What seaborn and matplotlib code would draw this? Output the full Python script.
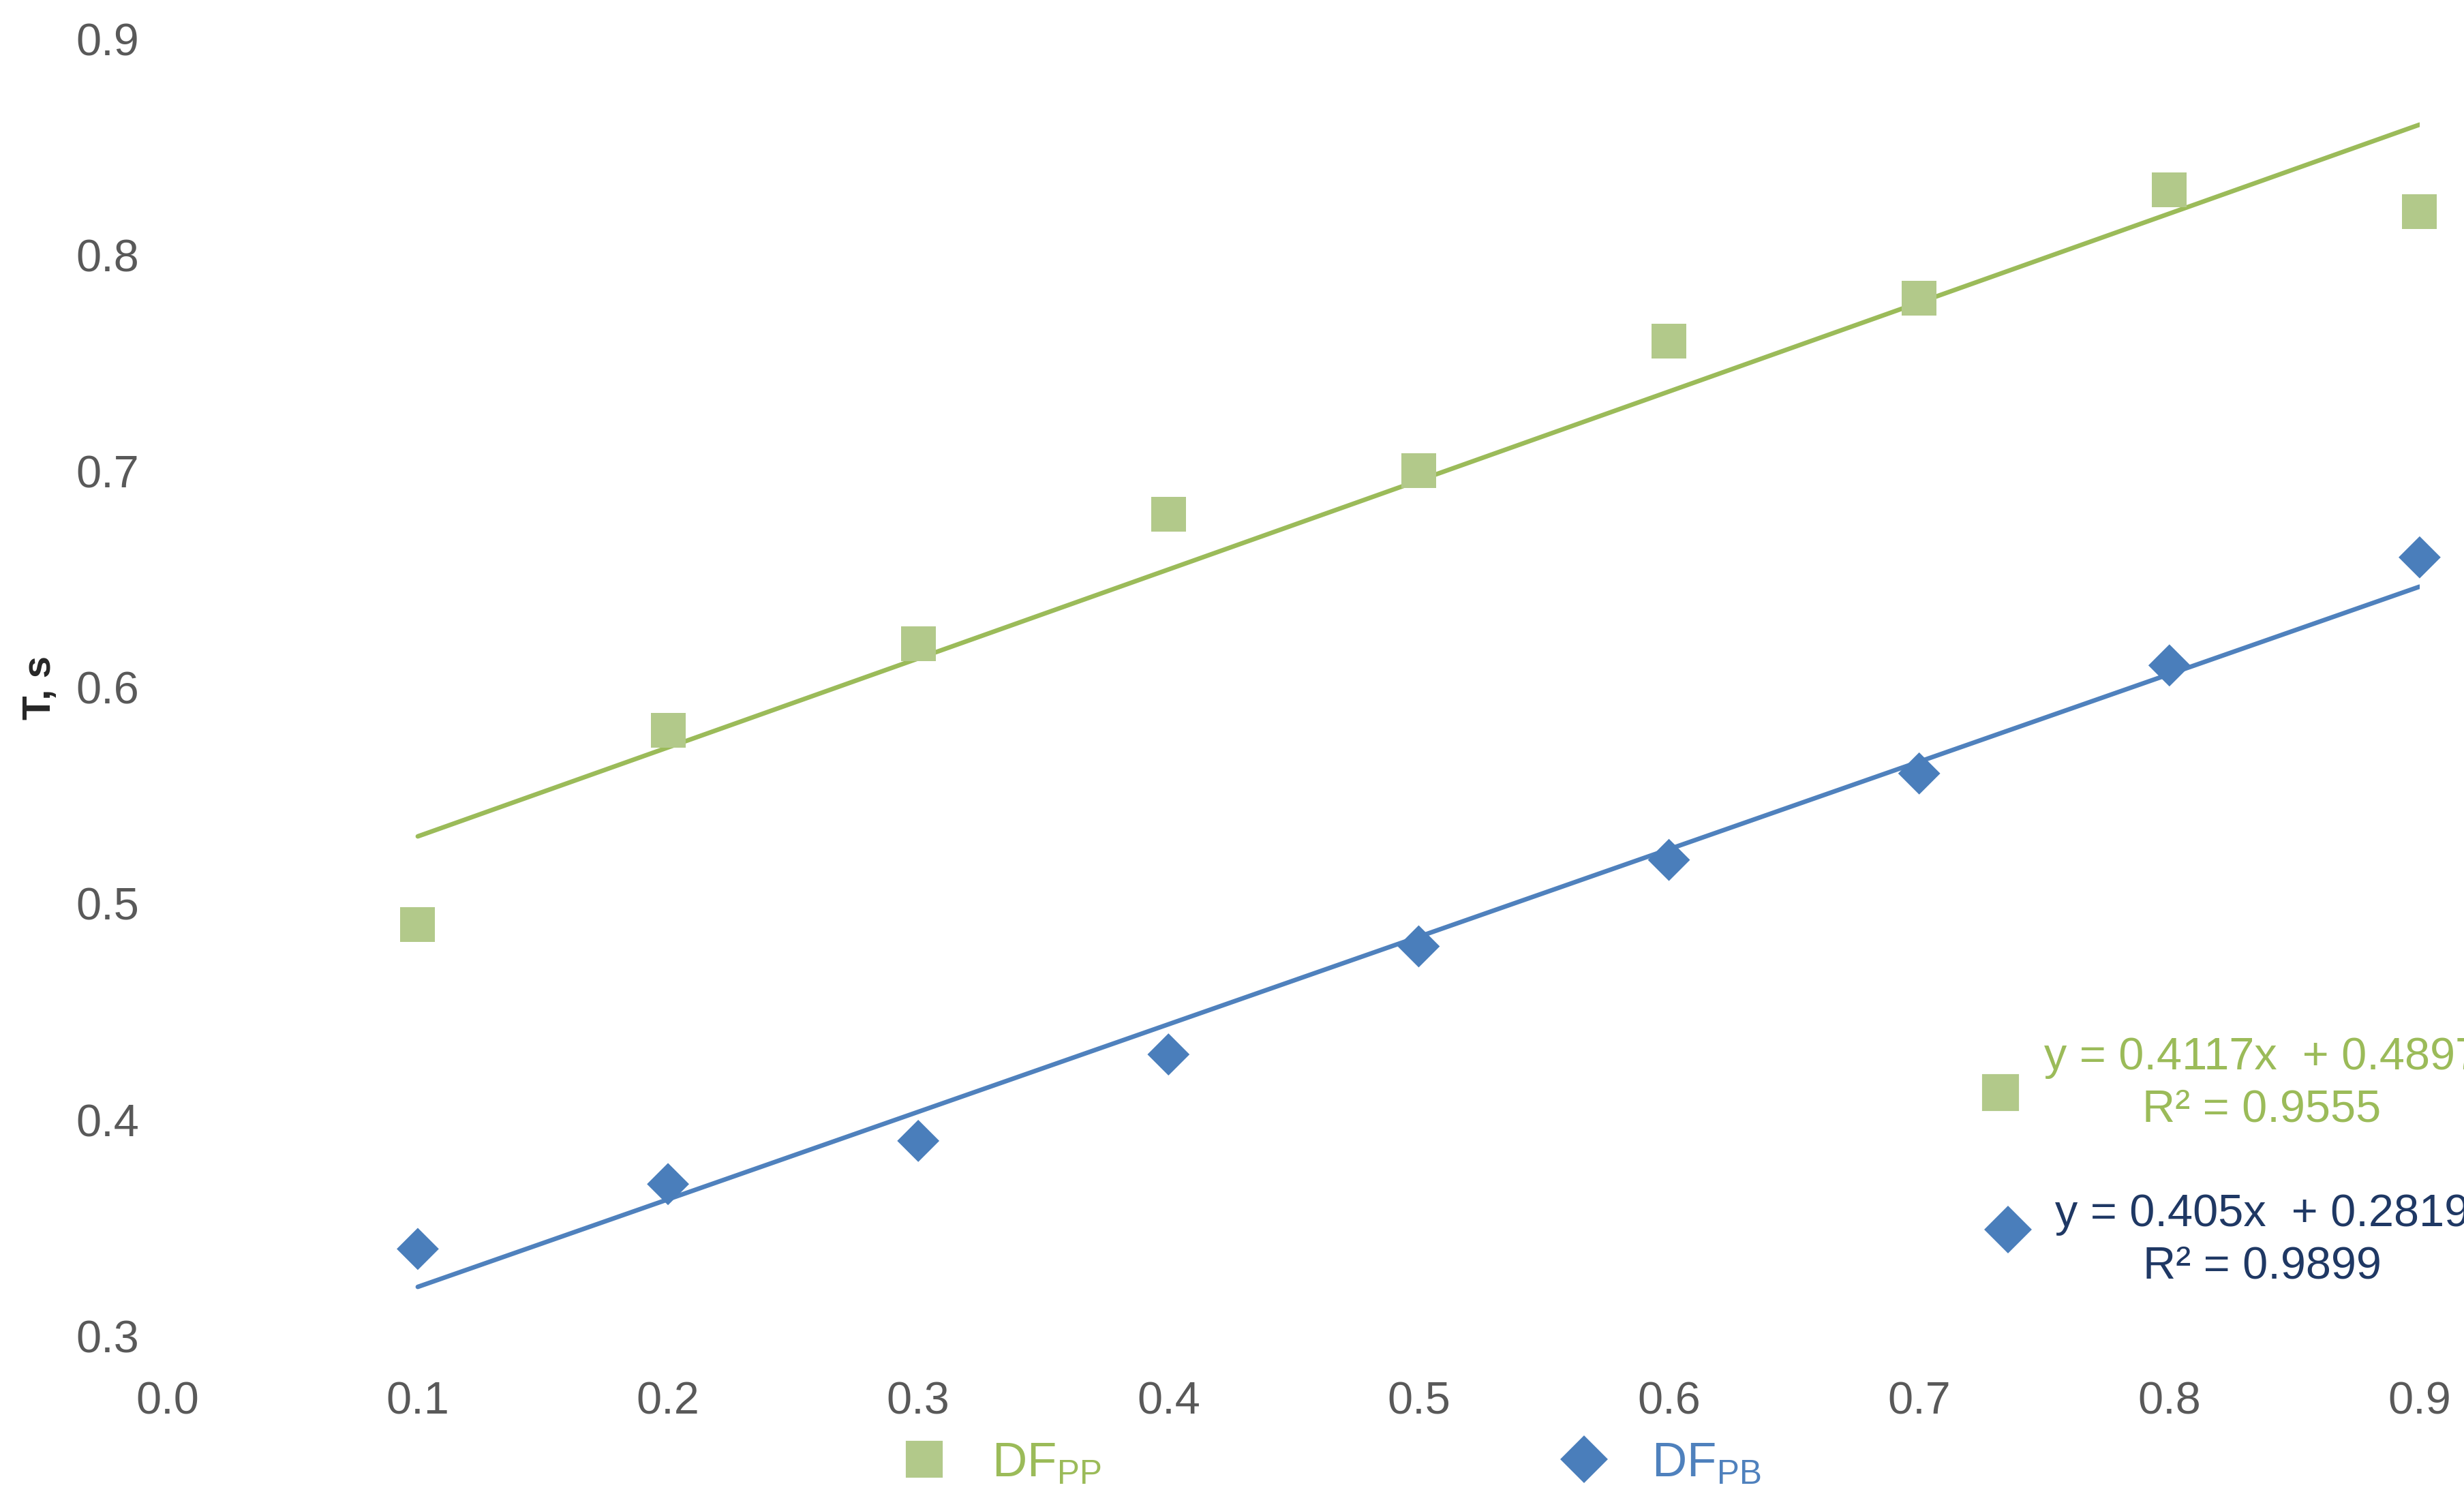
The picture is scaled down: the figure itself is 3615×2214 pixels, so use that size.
import numpy as np
import pandas as pd
import matplotlib.pyplot as plt
import seaborn as sns
from matplotlib.lines import Line2D

# values
dose = [0.1, 0.2, 0.3, 0.4, 0.5, 0.6, 0.7, 0.8, 0.9]
df_pp = [0.49, 0.58, 0.62, 0.68, 0.70, 0.76, 0.78, 0.83, 0.82]
df_pb = [0.34, 0.37, 0.39, 0.43, 0.48, 0.52, 0.56, 0.61, 0.66]
eq_pp = "y = 0.4117x  + 0.4897\nR² = 0.9555"
eq_pb = "y = 0.405x  + 0.2819\nR² = 0.9899"
xticks = [0.0, 0.1, 0.2, 0.3, 0.4, 0.5, 0.6, 0.7, 0.8, 0.9]
yticks = [0.3, 0.4, 0.5, 0.6, 0.7, 0.8, 0.9]

data = pd.DataFrame({'x': dose, 'pp': df_pp, 'pb': df_pb})

green_m, green_l = '#b2c98a', '#9bbb59'
blue_m, blue_l = '#4a7ebb', '#4f81bd'
navy = '#1f3864'

sns.set_style('white')
plt.rcParams['font.family'] = ['Liberation Sans Narrow', 'Liberation Sans', 'DejaVu Sans']
fig = plt.figure(figsize=(12.05, 7.383), dpi=300)
ax = fig.add_axes([0.068, 0.115, 0.914, 0.859])

sns.regplot(x='x', y='pp', data=data, ax=ax, ci=None, marker='s',
            scatter_kws=dict(s=150, color=green_m, edgecolor='none', zorder=3,
                             alpha=1, clip_on=False),
            line_kws=dict(color=green_l, lw=1.6))
sns.regplot(x='x', y='pb', data=data, ax=ax, ci=None, marker='D',
            scatter_kws=dict(s=110, color=blue_m, edgecolor='none', zorder=3,
                             alpha=1, clip_on=False),
            line_kws=dict(color=blue_l, lw=1.6))

ax.set_xlim(0, 0.9)
ax.set_ylim(0.3, 0.9)
ax.set_xticks(xticks)
ax.set_yticks(yticks)
ax.set_xticklabels([f'{v:.1f}' for v in xticks])
ax.set_yticklabels([f'{v:.1f}' for v in yticks])
ax.tick_params(colors='#595959', labelsize=16, length=0)
ax.tick_params(axis='x', pad=16)
ax.tick_params(axis='y', pad=10)
for s in ax.spines.values():
    s.set_visible(False)
ax.set_xlabel('')
ax.set_ylabel('T, s', fontsize=14, fontweight='bold', labelpad=6,
              family=['Liberation Sans', 'DejaVu Sans'])
ax.patch.set_alpha(0)

# trendline labels
fig.text(0.918, 0.282, eq_pp, color=green_l, fontsize=16, ha='center', va='center',
         linespacing=1.3)
fig.text(0.918, 0.178, eq_pb, color=navy, fontsize=16, ha='center', va='center',
         linespacing=1.3)
fig.lines.append(Line2D([0.812], [0.276], marker='s', ms=12, color=green_m,
                        transform=fig.transFigure))
fig.lines.append(Line2D([0.815], [0.185], marker='D', ms=11, color=blue_m,
                        transform=fig.transFigure))

# bottom legend
h1 = Line2D([], [], marker='s', ls='none', ms=12, color=green_m)
h2 = Line2D([], [], marker='D', ls='none', ms=11, color=blue_m)
leg = fig.legend([h1, h2], ['DF$_{\\mathregular{PP}}$', 'DF$_{\\mathregular{PB}}$'],
                 loc='center', bbox_to_anchor=(0.535, 0.03), ncol=2, frameon=False,
                 fontsize=17, columnspacing=9, handletextpad=0.4)
leg.get_texts()[0].set_color(green_l)
leg.get_texts()[1].set_color(blue_l)

fig.savefig('out.png', dpi=300)
